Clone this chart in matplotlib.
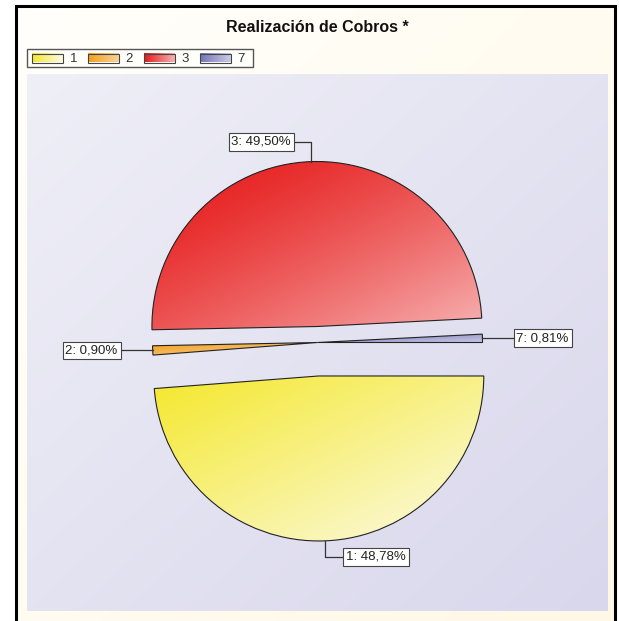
import numpy as np
import matplotlib
matplotlib.use('Agg')
import matplotlib.pyplot as plt
from matplotlib.patches import Rectangle
from matplotlib.colors import to_rgb

plt.rcParams['font.family'] = ['Liberation Sans', 'DejaVu Sans']

# ---- data ----
categories = ['1', '2', '3', '7']
shares = [48.78, 0.90, 49.50, 0.81]
value_labels = ['1: 48,78%', '2: 0,90%', '3: 49,50%', '7: 0,81%']
title = 'Realización de Cobros *'

# ---- styles ----
grad_start = ['#F4E82C', '#F29E1C', '#E61818', '#7474B6']
grad_end = ['#FCFAE6', '#F8D498', '#F7B2B2', '#CCCCE8']

W, H = 619, 621
fig = plt.figure(figsize=(W / 100, H / 100), dpi=100)
fig.patch.set_facecolor('white')
ax = fig.add_axes([0, 0, 1, 1])


def Y(y):
    return H - y


def gradient(extent, c0, c1, clip=None, z=1, direction='diag', gamma=1.0, n=256):
    s = np.linspace(0, 1, n)
    u, v = np.meshgrid(s, s)
    if direction == 'diag':
        t = (u + v) / 2
    else:
        t = u
    t = t ** gamma
    c0 = np.array(to_rgb(c0))
    c1 = np.array(to_rgb(c1))
    img = c0[None, None, :] * (1 - t[..., None]) + c1[None, None, :] * t[..., None]
    im = ax.imshow(img, extent=extent, origin='upper', zorder=z,
                   interpolation='bilinear', aspect='auto')
    if clip is not None:
        im.set_clip_path(clip)
    return im


# outer cream background inside frame
gradient([16, 615, Y(621), Y(6)], '#FFFFFB', '#FFF8E6', z=0)
# frame lines
ax.plot([15.5, 15.5, 614.5, 614.5], [Y(625), Y(6), Y(6), Y(625)],
        color='black', lw=2.2, zorder=0.5, solid_joinstyle='miter')

# plot area
gradient([27, 608, Y(611), Y(74)], '#EFEFF7', '#D9D7EC', z=0.6)

# title
ax.text(317, Y(28), title, ha='center', va='center', fontsize=11.5,
        fontweight='bold', color='#111111', zorder=5)

# legend
ax.add_patch(Rectangle((27, Y(67)), 226, 18, fc='#FFFFFC', ec='#555555',
                       lw=1.0, zorder=4))
for i, cat in enumerate(categories):
    x0 = 32 + 56 * i
    gradient([x0, x0 + 31, Y(62.5), Y(54)], grad_start[i], grad_end[i],
             z=4.5, direction='h')
    ax.add_patch(Rectangle((x0, Y(62.5)), 31, 8.5, fc='none', ec='#444444',
                           lw=0.8, zorder=4.6))
    ax.text(x0 + 41.5, Y(58.5), cat, ha='center', va='center', fontsize=9.5,
            color='#333333', zorder=4.6)

# pie
cx, cy, R = 317.5, Y(342.5), 165
explode = [33.5, 0, 16, 0]
wedges, _ = ax.pie(shares, explode=explode, startangle=0, counterclock=False,
                   center=(cx, cy), radius=R, frame=True,
                   wedgeprops=dict(fc='none', ec='#222222', lw=0.8))
gammas = [1.0, 1.0, 1.35, 1.0]
for i, w in enumerate(wedges):
    w.set_zorder(3)
    bb = w.get_path().get_extents()
    gradient([bb.x0, bb.x1, bb.y0, bb.y1], grad_start[i], grad_end[i],
             clip=w, z=2, gamma=gammas[i])

# value labels with leaders
def anchor(w):
    tm = np.deg2rad((w.theta1 + w.theta2) / 2)
    return (w.center[0] + R * np.cos(tm), w.center[1] + R * np.sin(tm))

box = dict(boxstyle='square,pad=0.22', fc='white', ec='#444444', lw=0.8)
tk = dict(fontsize=9.5, color='#222222', zorder=6, bbox=box)
lk = dict(color='#333333', lw=0.9, zorder=5)

# 1 (bottom)
ax0, ay0 = anchor(wedges[0])
ly = ay0 - 16
ax.plot([ax0, ax0, ax0 + 18], [ay0, ly, ly], **lk)
ax.text(ax0 + 21, ly, value_labels[0], ha='left', va='center', **tk)
# 2 (left)
ax1, ay1 = anchor(wedges[1])
ax.plot([ax1, ax1 - 32], [ay1, ay1], **lk)
ax.text(ax1 - 35, ay1, value_labels[1], ha='right', va='center', **tk)
# 3 (top)
ax2, ay2 = anchor(wedges[2])
ly = ay2 + 20
ax.plot([ax2, ax2, ax2 - 17], [ay2, ly, ly], **lk)
ax.text(ax2 - 20, ly, value_labels[2], ha='right', va='center', **tk)
# 7 (right)
ax3, ay3 = anchor(wedges[3])
ax.plot([ax3, ax3 + 31], [ay3, ay3], **lk)
ax.text(ax3 + 34, ay3, value_labels[3], ha='left', va='center', **tk)

ax.set_xlim(0, W)
ax.set_ylim(0, H)
ax.set_aspect('auto')
ax.axis('off')

fig.savefig('out.png', dpi=100, facecolor=fig.get_facecolor())
